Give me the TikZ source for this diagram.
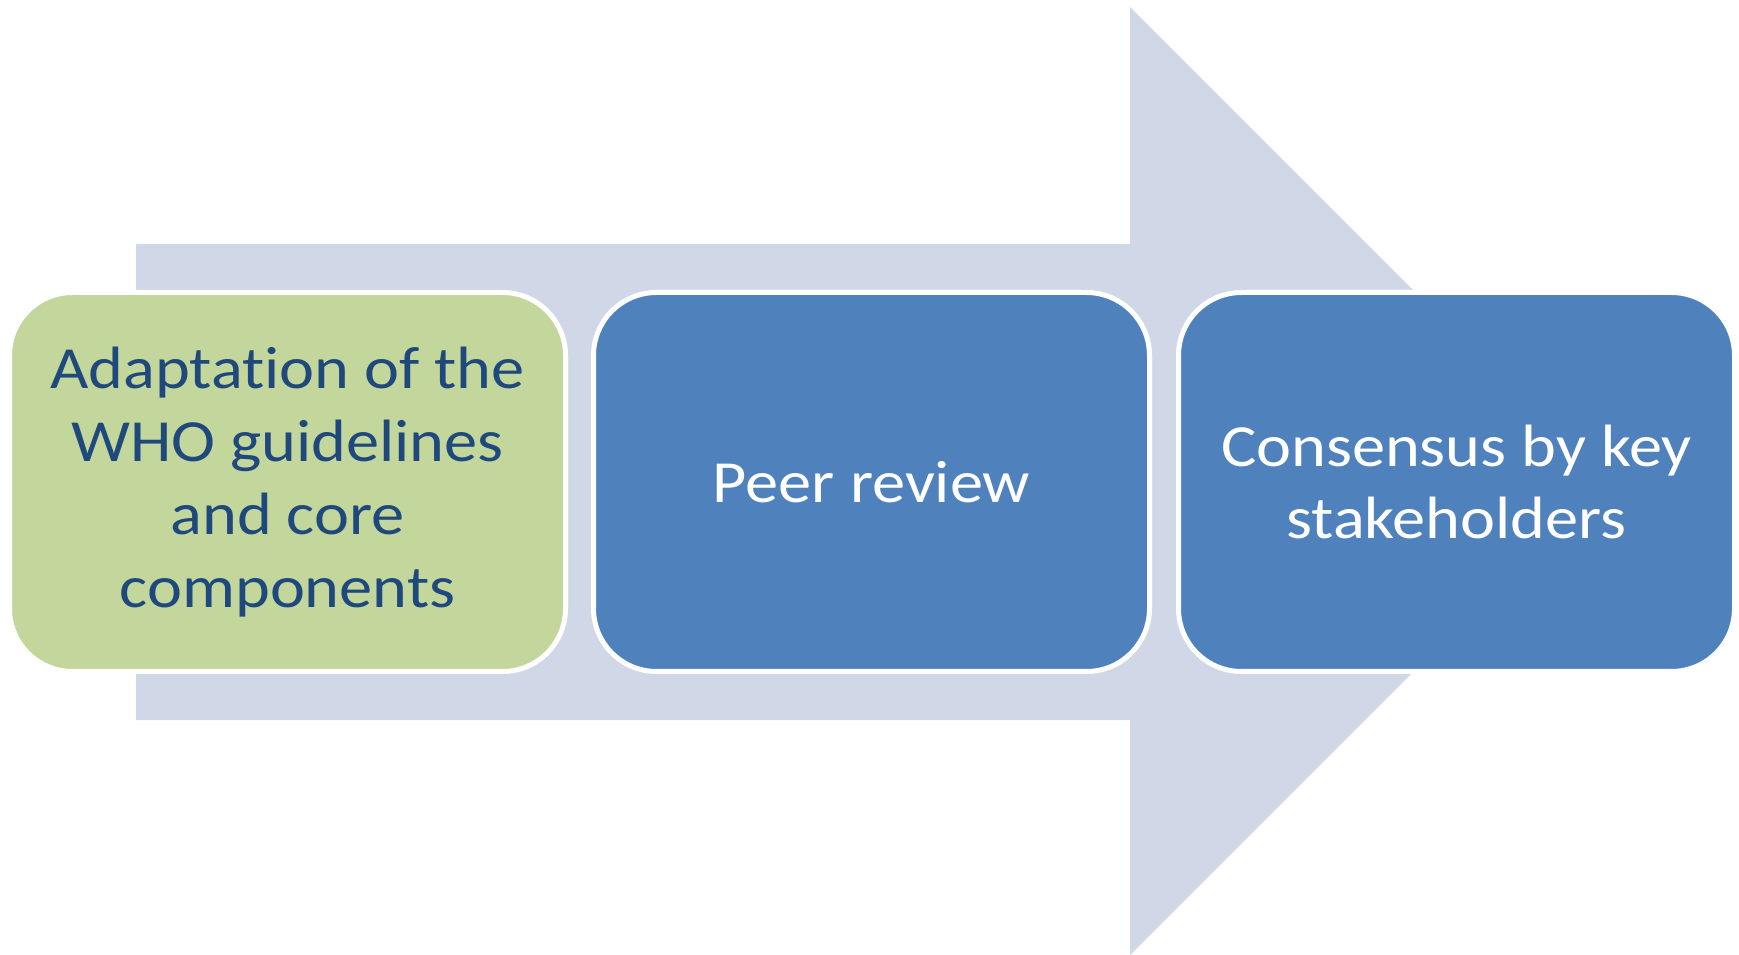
\documentclass[tikz,border=0pt]{standalone}
\usepackage{fontspec}
\setmainfont{Carlito}[FakeStretch=1.11,Ligatures=NoCommon]
\usetikzlibrary{positioning}

\definecolor{arrowgray}{HTML}{D0D8E8}
\definecolor{stagegreen}{HTML}{C3D69B}
\definecolor{stageblue}{HTML}{4F81BD}
\definecolor{textblue}{HTML}{1F497D}

\begin{document}
\begin{tikzpicture}[x=0.1mm,y=-0.1mm,
		stage node/.style={rectangle,rounded corners=6.3mm,draw=white,line width=0.5mm,
			inner sep=0pt,outer sep=0pt,minimum width=55.6mm,minimum height=37.9mm,
			align=center,font=\fontsize{17}{20.7}\selectfont},
		first stage/.style={stage node,fill=stagegreen,text=textblue},
		next stage/.style={stage node,fill=stageblue,text=white}]

\useasboundingbox (0,0) rectangle (1739,955);

% big arrow behind the stages
\fill[arrowgray] (136,244) -- (1130,244) -- (1130,7) -- (1604,481)
	-- (1130,955) -- (1130,720) -- (136,720) -- cycle;

\node (Adapt) [first stage] at (287.5,482) {Adaptation of the\\WHO guidelines\\and core\\components};
\node (Peer) [next stage,right=2.8mm of Adapt] {Peer review};
\node (Consensus) [next stage,right=2.9mm of Peer] {Consensus by key\\stakeholders};

\end{tikzpicture}
\end{document}
